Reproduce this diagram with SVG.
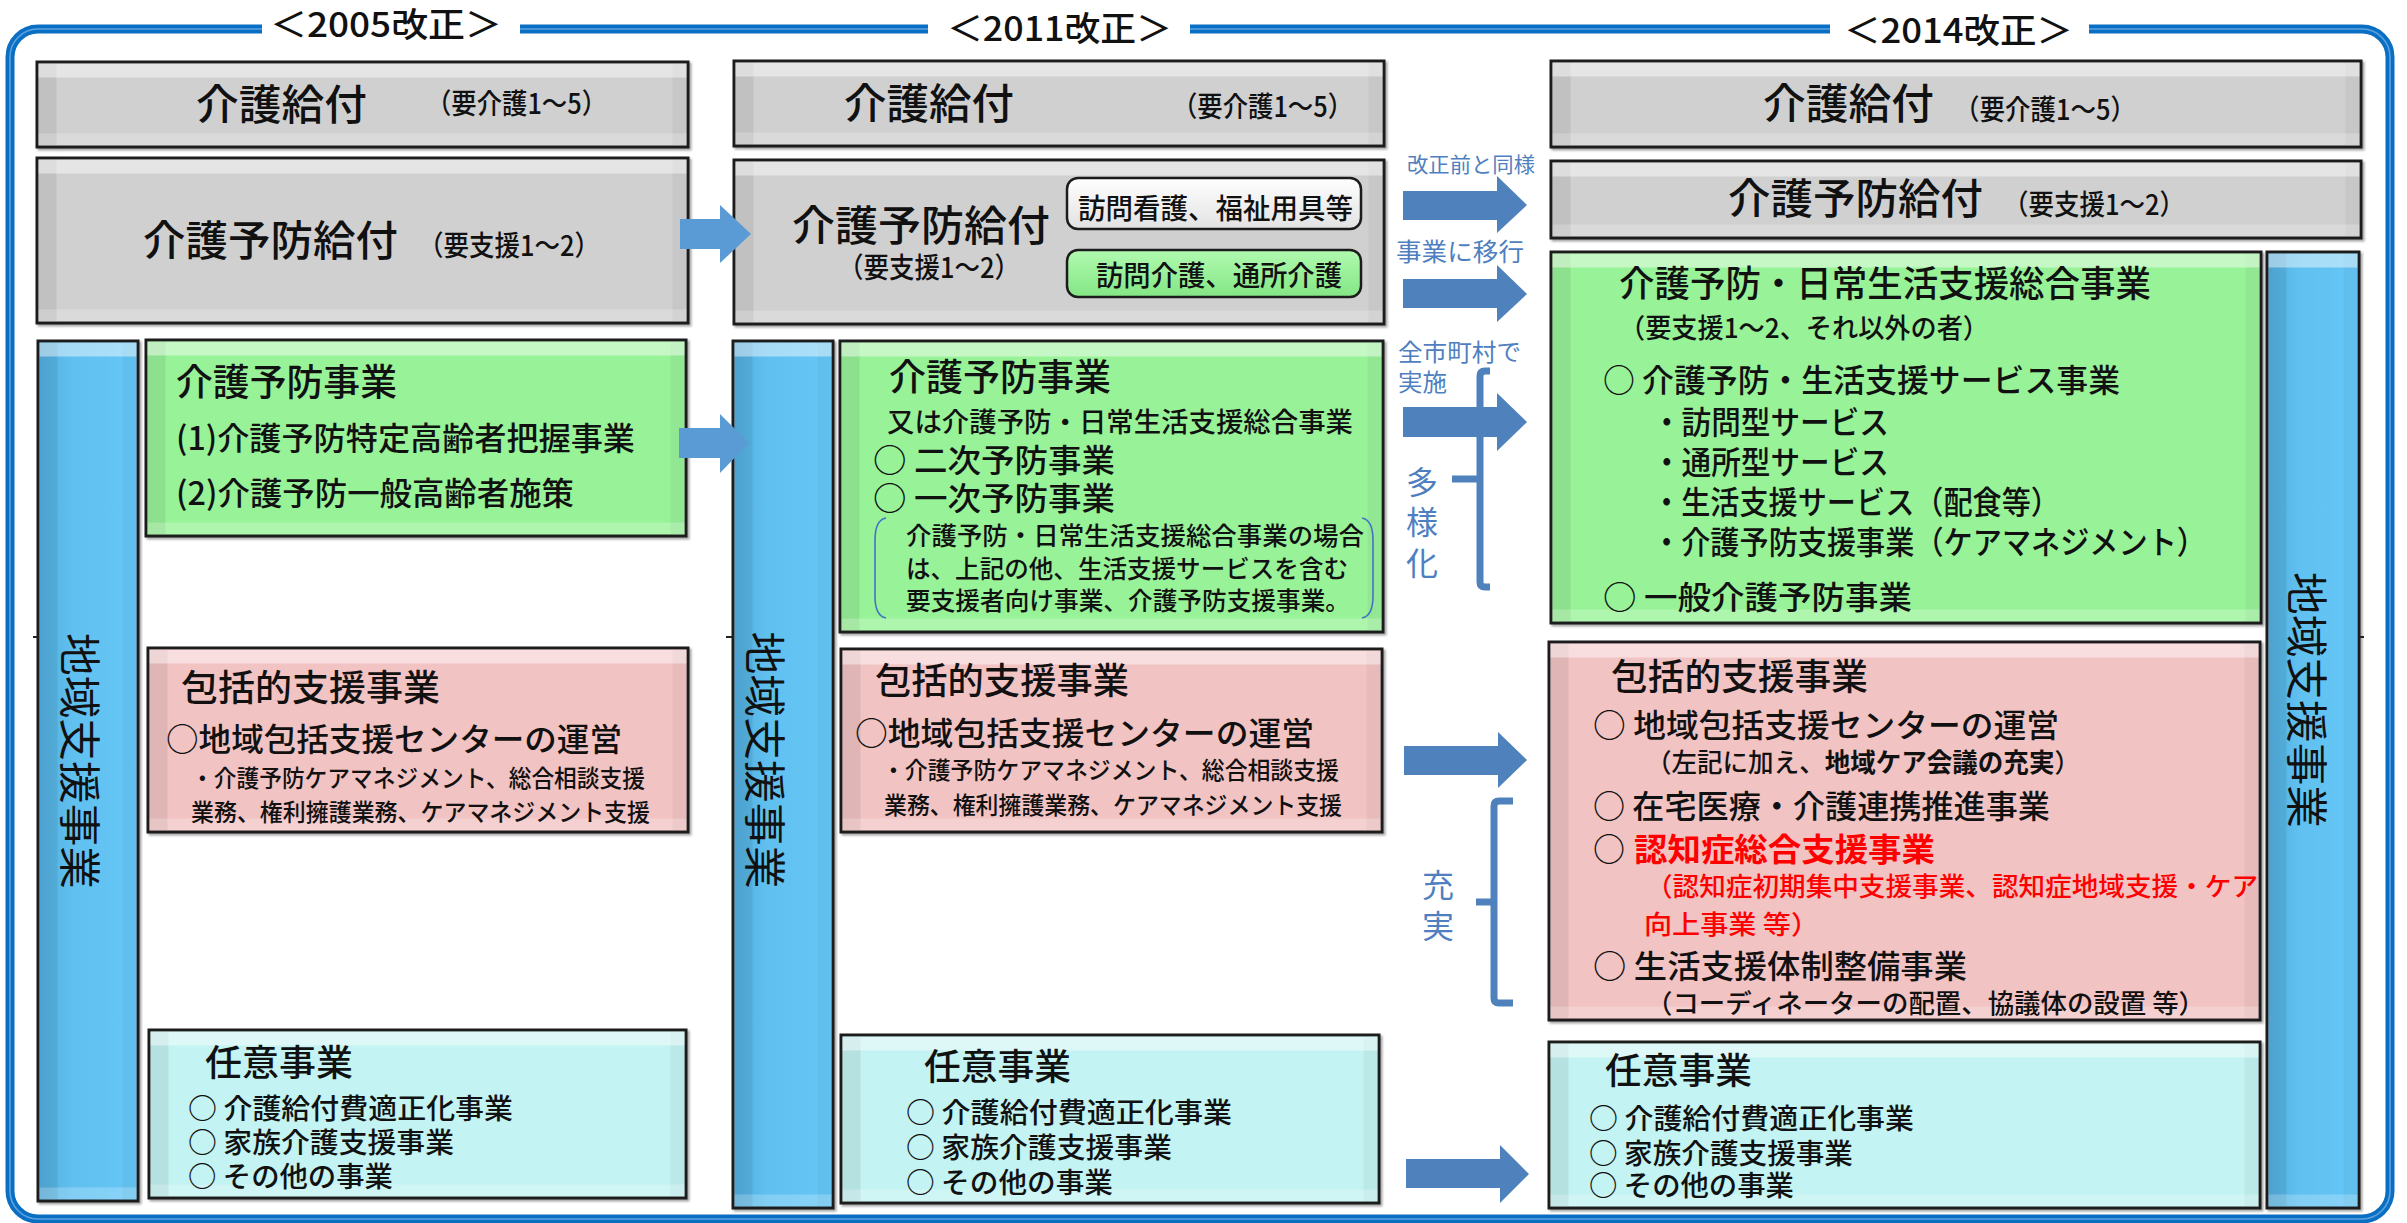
<svg xmlns="http://www.w3.org/2000/svg" width="2407" height="1223" viewBox="0 0 2407 1223">
<defs>
<style>
text{font-family:"Noto Sans CJK JP","Noto Sans CJK SC",sans-serif;fill:#111;font-weight:500}
.bx{stroke:#1c1c1c;stroke-width:3;filter:url(#bev)}
.gray{fill:#D0D0D0}
.green{fill:#98F298}
.pink{fill:#F2C3C3}
.cyan{fill:#C3F3F2}
.bar{fill:url(#barG)}
.lbl{fill:#4F7FC0;font-weight:400}
.red{fill:#FF0000;font-weight:bold}
.redn{fill:#FF0000;font-weight:500}
.vt{font-weight:400}
.arrL{fill:#5B9BD5}
.arrD{fill:#4F81BD}
.br{fill:none;stroke:#4F81BD;stroke-width:7;stroke-linejoin:round}
.pr{fill:none;stroke:#4472C4;stroke-width:1.6}
.tick{stroke:#222;stroke-width:2}
</style>
<linearGradient id="barG" x1="0" y1="0" x2="1" y2="0">
<stop offset="0" stop-color="#52AEDF"/>
<stop offset="0.35" stop-color="#60C0F0"/>
<stop offset="1" stop-color="#66C8F8"/>
</linearGradient>
<linearGradient id="wG" x1="0" y1="0" x2="0" y2="1">
<stop offset="0" stop-color="#FFFFFF"/>
<stop offset="1" stop-color="#E2E2E2"/>
</linearGradient>
<linearGradient id="gG" x1="0" y1="0" x2="0" y2="1">
<stop offset="0" stop-color="#B0FAB0"/>
<stop offset="1" stop-color="#84E684"/>
</linearGradient>
<filter id="bev" x="-3%" y="-6%" width="108%" height="116%" color-interpolation-filters="sRGB">
<feMorphology in="SourceAlpha" operator="erode" radius="3" result="a"/>
<feOffset in="a" dy="14" result="o1"/><feComposite in="a" in2="o1" operator="out" result="t"/>
<feOffset in="a" dx="18" result="o2"/><feComposite in="a" in2="o2" operator="out" result="l"/>
<feOffset in="a" dx="-14" result="o3"/><feComposite in="a" in2="o3" operator="out" result="r"/>
<feOffset in="a" dy="-12" result="o4"/><feComposite in="a" in2="o4" operator="out" result="b"/>
<feFlood flood-color="#fff" flood-opacity="0.45"/><feComposite in2="t" operator="in" result="tc"/>
<feFlood flood-color="#000" flood-opacity="0.07"/><feComposite in2="l" operator="in" result="lc"/>
<feFlood flood-color="#000" flood-opacity="0.04"/><feComposite in2="r" operator="in" result="rc"/>
<feFlood flood-color="#fff" flood-opacity="0.22"/><feComposite in2="b" operator="in" result="bc"/>
<feOffset in="SourceAlpha" dx="2" dy="2" result="s0"/><feGaussianBlur in="s0" stdDeviation="1.2" result="s1"/>
<feFlood flood-color="#000" flood-opacity="0.35"/><feComposite in2="s1" operator="in" result="sh"/>
<feMerge><feMergeNode in="sh"/><feMergeNode in="SourceGraphic"/><feMergeNode in="lc"/><feMergeNode in="rc"/><feMergeNode in="bc"/><feMergeNode in="tc"/></feMerge>
</filter>
</defs>

<rect width="2407" height="1223" fill="#fff"/>

<!-- outer frame -->
<g id="frame">
<rect x="10" y="29" width="2380" height="1190" rx="28" fill="none" stroke="#0A6FC2" stroke-width="9"/>
<rect x="10" y="29" width="2380" height="1190" rx="28" fill="none" stroke="#5AA2E2" stroke-width="1.6"/>
<rect x="262" y="16" width="258" height="28" fill="#fff"/>
<rect x="928" y="16" width="262" height="28" fill="#fff"/>
<rect x="1830" y="16" width="259" height="28" fill="#fff"/>
<text x="270" y="37" font-size="34" textLength="232" lengthAdjust="spacingAndGlyphs">＜2005改正＞</text>
<text x="947" y="41" font-size="34" textLength="225" lengthAdjust="spacingAndGlyphs">＜2011改正＞</text>
<text x="1844" y="43" font-size="34" textLength="229" lengthAdjust="spacingAndGlyphs">＜2014改正＞</text>
</g>

<!-- 2005 -->
<g id="n05_kyufu">
<rect class="bx gray" x="37" y="62" width="651" height="85"/>
<text x="196" y="120" font-size="42" textLength="171" lengthAdjust="spacingAndGlyphs">介護給付</text>
<text x="426" y="114" font-size="28" textLength="181" lengthAdjust="spacingAndGlyphs">（要介護1～5）</text>
</g>
<g id="n05_yobokyufu">
<rect class="bx gray" x="37" y="158" width="651" height="165"/>
<text x="143" y="256" font-size="42" textLength="255" lengthAdjust="spacingAndGlyphs">介護予防給付</text>
<text x="418" y="256" font-size="28" textLength="182" lengthAdjust="spacingAndGlyphs">（要支援1～2）</text>
</g>
<g id="n05_bar">
<rect class="bx bar" x="38" y="341" width="100" height="860"/>
<text class="vt" transform="translate(80,761) rotate(90)" x="0" y="16" font-size="42" text-anchor="middle" textLength="256" lengthAdjust="spacingAndGlyphs">地域支援事業</text>
</g>
<g id="n05_yobo">
<rect class="bx green" x="146" y="340" width="540" height="196"/>
<text x="176" y="396" font-size="37" textLength="221" lengthAdjust="spacingAndGlyphs">介護予防事業</text>
<text x="176" y="450" font-size="32" textLength="459" lengthAdjust="spacingAndGlyphs">(1)介護予防特定高齢者把握事業</text>
<text x="176" y="505" font-size="32" textLength="398" lengthAdjust="spacingAndGlyphs">(2)介護予防一般高齢者施策</text>
</g>
<g id="n05_houkatsu">
<rect class="bx pink" x="148" y="648" width="540" height="184"/>
<text x="181" y="701" font-size="36" textLength="259" lengthAdjust="spacingAndGlyphs">包括的支援事業</text>
<text x="166" y="751" font-size="32" textLength="456" lengthAdjust="spacingAndGlyphs">○地域包括支援センターの運営</text>
<text x="191" y="787" font-size="24" textLength="454" lengthAdjust="spacingAndGlyphs">・介護予防ケアマネジメント、総合相談支援</text>
<text x="191" y="821" font-size="24" textLength="459" lengthAdjust="spacingAndGlyphs">業務、権利擁護業務、ケアマネジメント支援</text>
</g>
<g id="n05_nini">
<rect class="bx cyan" x="149" y="1030" width="537" height="168"/>
<text x="205" y="1076" font-size="36" textLength="148" lengthAdjust="spacingAndGlyphs">任意事業</text>
<text x="188" y="1119" font-size="28" textLength="325" lengthAdjust="spacingAndGlyphs">○ 介護給付費適正化事業</text>
<text x="188" y="1153" font-size="28" textLength="266" lengthAdjust="spacingAndGlyphs">○ 家族介護支援事業</text>
<text x="188" y="1187" font-size="28" textLength="205" lengthAdjust="spacingAndGlyphs">○ その他の事業</text>
</g>

<!-- 2011 -->
<g id="n11_kyufu">
<rect class="bx gray" x="734" y="61" width="650" height="85"/>
<text x="844" y="119" font-size="42" textLength="170" lengthAdjust="spacingAndGlyphs">介護給付</text>
<text x="1172" y="117" font-size="28" textLength="181" lengthAdjust="spacingAndGlyphs">（要介護1～5）</text>
</g>
<g id="n11_yobokyufu">
<rect class="bx gray" x="734" y="160" width="650" height="164"/>
<text x="792" y="241" font-size="42" textLength="258" lengthAdjust="spacingAndGlyphs">介護予防給付</text>
<text x="838" y="278" font-size="28" textLength="182" lengthAdjust="spacingAndGlyphs">（要支援1～2）</text>
</g>
<g id="n11_houmonkango">
<rect x="1067" y="178" width="294" height="51" rx="11" fill="url(#wG)" stroke="#1c1c1c" stroke-width="2.5"/>
<text x="1078" y="219" font-size="28" textLength="275" lengthAdjust="spacingAndGlyphs">訪問看護、福祉用具等</text>
</g>
<g id="n11_houmonkaigo">
<rect x="1067" y="250" width="294" height="47" rx="11" fill="url(#gG)" stroke="#1c1c1c" stroke-width="2.5"/>
<text x="1096" y="286" font-size="28" textLength="246" lengthAdjust="spacingAndGlyphs">訪問介護、通所介護</text>
</g>
<g id="n11_bar">
<rect class="bx bar" x="733" y="341" width="100" height="867"/>
<text class="vt" transform="translate(765,760) rotate(90)" x="0" y="16" font-size="42" text-anchor="middle" textLength="257" lengthAdjust="spacingAndGlyphs">地域支援事業</text>
</g>
<g id="n11_yobo">
<rect class="bx green" x="840" y="341" width="543" height="291"/>
<text x="889" y="391" font-size="37" textLength="222" lengthAdjust="spacingAndGlyphs">介護予防事業</text>
<text x="887" y="432" font-size="27" textLength="466" lengthAdjust="spacingAndGlyphs">又は介護予防・日常生活支援総合事業</text>
<text x="873" y="472" font-size="32" textLength="242" lengthAdjust="spacingAndGlyphs">○ 二次予防事業</text>
<text x="873" y="510" font-size="32" textLength="242" lengthAdjust="spacingAndGlyphs">○ 一次予防事業</text>
<path class="pr" d="M886,518 Q875,520 875,540 V596 Q875,616 886,618"/>
<path class="pr" d="M1362,518 Q1373,520 1373,540 V596 Q1373,616 1362,618"/>
<text x="906" y="545" font-size="25" textLength="458" lengthAdjust="spacingAndGlyphs">介護予防・日常生活支援総合事業の場合</text>
<text x="906" y="578" font-size="25" textLength="442" lengthAdjust="spacingAndGlyphs">は、上記の他、生活支援サービスを含む</text>
<text x="906" y="610" font-size="25" textLength="444" lengthAdjust="spacingAndGlyphs">要支援者向け事業、介護予防支援事業。</text>
</g>
<g id="n11_houkatsu">
<rect class="bx pink" x="841" y="649" width="541" height="183"/>
<text x="875" y="694" font-size="36" textLength="254" lengthAdjust="spacingAndGlyphs">包括的支援事業</text>
<text x="855" y="745" font-size="32" textLength="459" lengthAdjust="spacingAndGlyphs">○地域包括支援センターの運営</text>
<text x="882" y="779" font-size="24" textLength="457" lengthAdjust="spacingAndGlyphs">・介護予防ケアマネジメント、総合相談支援</text>
<text x="884" y="814" font-size="24" textLength="458" lengthAdjust="spacingAndGlyphs">業務、権利擁護業務、ケアマネジメント支援</text>
</g>
<g id="n11_nini">
<rect class="bx cyan" x="841" y="1035" width="538" height="168"/>
<text x="924" y="1080" font-size="36" textLength="147" lengthAdjust="spacingAndGlyphs">任意事業</text>
<text x="906" y="1123" font-size="28" textLength="326" lengthAdjust="spacingAndGlyphs">○ 介護給付費適正化事業</text>
<text x="906" y="1158" font-size="28" textLength="266" lengthAdjust="spacingAndGlyphs">○ 家族介護支援事業</text>
<text x="906" y="1193" font-size="28" textLength="207" lengthAdjust="spacingAndGlyphs">○ その他の事業</text>
</g>

<!-- 2014 -->
<g id="n14_kyufu">
<rect class="bx gray" x="1551" y="61" width="810" height="86"/>
<text x="1763" y="119" font-size="42" textLength="171" lengthAdjust="spacingAndGlyphs">介護給付</text>
<text x="1954" y="120" font-size="28" textLength="182" lengthAdjust="spacingAndGlyphs">（要介護1～5）</text>
</g>
<g id="n14_yobokyufu">
<rect class="bx gray" x="1551" y="161" width="810" height="77"/>
<text x="1728" y="214" font-size="42" textLength="255" lengthAdjust="spacingAndGlyphs">介護予防給付</text>
<text x="2003" y="215" font-size="28" textLength="182" lengthAdjust="spacingAndGlyphs">（要支援1～2）</text>
</g>
<g id="n14_sougou">
<rect class="bx green" x="1551" y="252" width="710" height="371"/>
<text x="1619" y="297" font-size="36" textLength="532" lengthAdjust="spacingAndGlyphs">介護予防・日常生活支援総合事業</text>
<text x="1619" y="338" font-size="27" textLength="370" lengthAdjust="spacingAndGlyphs">（要支援1～2、それ以外の者）</text>
<text x="1603" y="392" font-size="32" textLength="517" lengthAdjust="spacingAndGlyphs">○ 介護予防・生活支援サービス事業</text>
<text x="1652" y="434" font-size="32" textLength="237" lengthAdjust="spacingAndGlyphs">・訪問型サービス</text>
<text x="1652" y="474" font-size="32" textLength="237" lengthAdjust="spacingAndGlyphs">・通所型サービス</text>
<text x="1652" y="514" font-size="32" textLength="408" lengthAdjust="spacingAndGlyphs">・生活支援サービス（配食等）</text>
<text x="1652" y="554" font-size="32" textLength="554" lengthAdjust="spacingAndGlyphs">・介護予防支援事業（ケアマネジメント）</text>
<text x="1603" y="609" font-size="32" textLength="309" lengthAdjust="spacingAndGlyphs">○ 一般介護予防事業</text>
</g>
<g id="n14_bar">
<rect class="bx bar" x="2267" y="252" width="92" height="956"/>
<text class="vt" transform="translate(2307,700) rotate(90)" x="0" y="16" font-size="42" text-anchor="middle" textLength="256" lengthAdjust="spacingAndGlyphs">地域支援事業</text>
</g>
<g id="n14_houkatsu">
<rect class="bx pink" x="1549" y="642" width="711" height="378"/>
<text x="1611" y="690" font-size="36" textLength="257" lengthAdjust="spacingAndGlyphs">包括的支援事業</text>
<text x="1593" y="737" font-size="32" textLength="466" lengthAdjust="spacingAndGlyphs">○ 地域包括支援センターの運営</text>
<text x="1646" y="772" font-size="26" textLength="434" lengthAdjust="spacingAndGlyphs">（左記に加え、<tspan font-weight="bold">地域ケア会議の充実</tspan>）</text>
<text x="1593" y="818" font-size="32" textLength="457" lengthAdjust="spacingAndGlyphs">○ 在宅医療・介護連携推進事業</text>
<text x="1593" y="861" font-size="32">○</text>
<text class="red" x="1634" y="861" font-size="32" textLength="301" lengthAdjust="spacingAndGlyphs">認知症総合支援事業</text>
<text class="redn" x="1646" y="896" font-size="26" textLength="612" lengthAdjust="spacingAndGlyphs">（認知症初期集中支援事業、認知症地域支援・ケア</text>
<text class="redn" x="1644" y="934" font-size="26" textLength="175" lengthAdjust="spacingAndGlyphs">向上事業 等）</text>
<text x="1593" y="978" font-size="32" textLength="374" lengthAdjust="spacingAndGlyphs">○ 生活支援体制整備事業</text>
<text x="1646" y="1013" font-size="26" textLength="559" lengthAdjust="spacingAndGlyphs">（コーディネーターの配置、協議体の設置 等）</text>
</g>
<g id="n14_nini">
<rect class="bx cyan" x="1549" y="1042" width="711" height="166"/>
<text x="1605" y="1084" font-size="36" textLength="147" lengthAdjust="spacingAndGlyphs">任意事業</text>
<text x="1589" y="1129" font-size="28" textLength="325" lengthAdjust="spacingAndGlyphs">○ 介護給付費適正化事業</text>
<text x="1589" y="1164" font-size="28" textLength="264" lengthAdjust="spacingAndGlyphs">○ 家族介護支援事業</text>
<text x="1589" y="1196" font-size="28" textLength="205" lengthAdjust="spacingAndGlyphs">○ その他の事業</text>
</g>

<!-- connectors -->
<g id="connectors">
<polygon class="arrL" points="680,219 720,219 720,205 751,234 720,263 720,249 680,249"/>
<polygon class="arrL" points="679,428 720,428 720,414 749,443 720,473 720,458 679,458"/>
<polygon class="arrD" points="1403,191 1497,191 1497,176 1527,205 1497,233 1497,220 1403,220"/>
<polygon class="arrD" points="1403,279 1497,279 1497,265 1527,294 1497,322 1497,308 1403,308"/>
<polygon class="arrD" points="1403,407 1497,407 1497,393 1527,422 1497,451 1497,437 1403,437"/>
<polygon class="arrD" points="1404,746 1498,746 1498,732 1527,760 1498,788 1498,775 1404,775"/>
<polygon class="arrD" points="1406,1159 1500,1159 1500,1145 1529,1174 1500,1203 1500,1188 1406,1188"/>
<path class="br" d="M1490,371 H1485 Q1480,371 1480,376 V582 Q1480,587 1485,587 H1490 M1480,479 H1452"/>
<path class="br" d="M1513,801 H1499 Q1494,801 1494,806 V998 Q1494,1003 1499,1003 H1513 M1494,902 H1476"/>
<line class="tick" x1="33" y1="637" x2="38" y2="637"/>
<line class="tick" x1="726" y1="637" x2="733" y2="637"/>
<line class="tick" x1="2359" y1="637" x2="2364" y2="637"/>
</g>

<!-- labels -->
<g id="labels">
<text class="lbl" x="1407" y="172" font-size="21" textLength="128" lengthAdjust="spacingAndGlyphs">改正前と同様</text>
<text class="lbl" x="1396" y="261" font-size="25" textLength="128" lengthAdjust="spacingAndGlyphs">事業に移行</text>
<text class="lbl" x="1398" y="361" font-size="24" textLength="123" lengthAdjust="spacingAndGlyphs">全市町村で</text>
<text class="lbl" x="1398" y="391" font-size="24" textLength="49" lengthAdjust="spacingAndGlyphs">実施</text>
<text class="lbl" x="1422" y="494" font-size="32" text-anchor="middle">多</text>
<text class="lbl" x="1422" y="534" font-size="32" text-anchor="middle">様</text>
<text class="lbl" x="1422" y="575" font-size="32" text-anchor="middle">化</text>
<text class="lbl" x="1438" y="897" font-size="32" text-anchor="middle">充</text>
<text class="lbl" x="1438" y="938" font-size="32" text-anchor="middle">実</text>
</g>
</svg>
